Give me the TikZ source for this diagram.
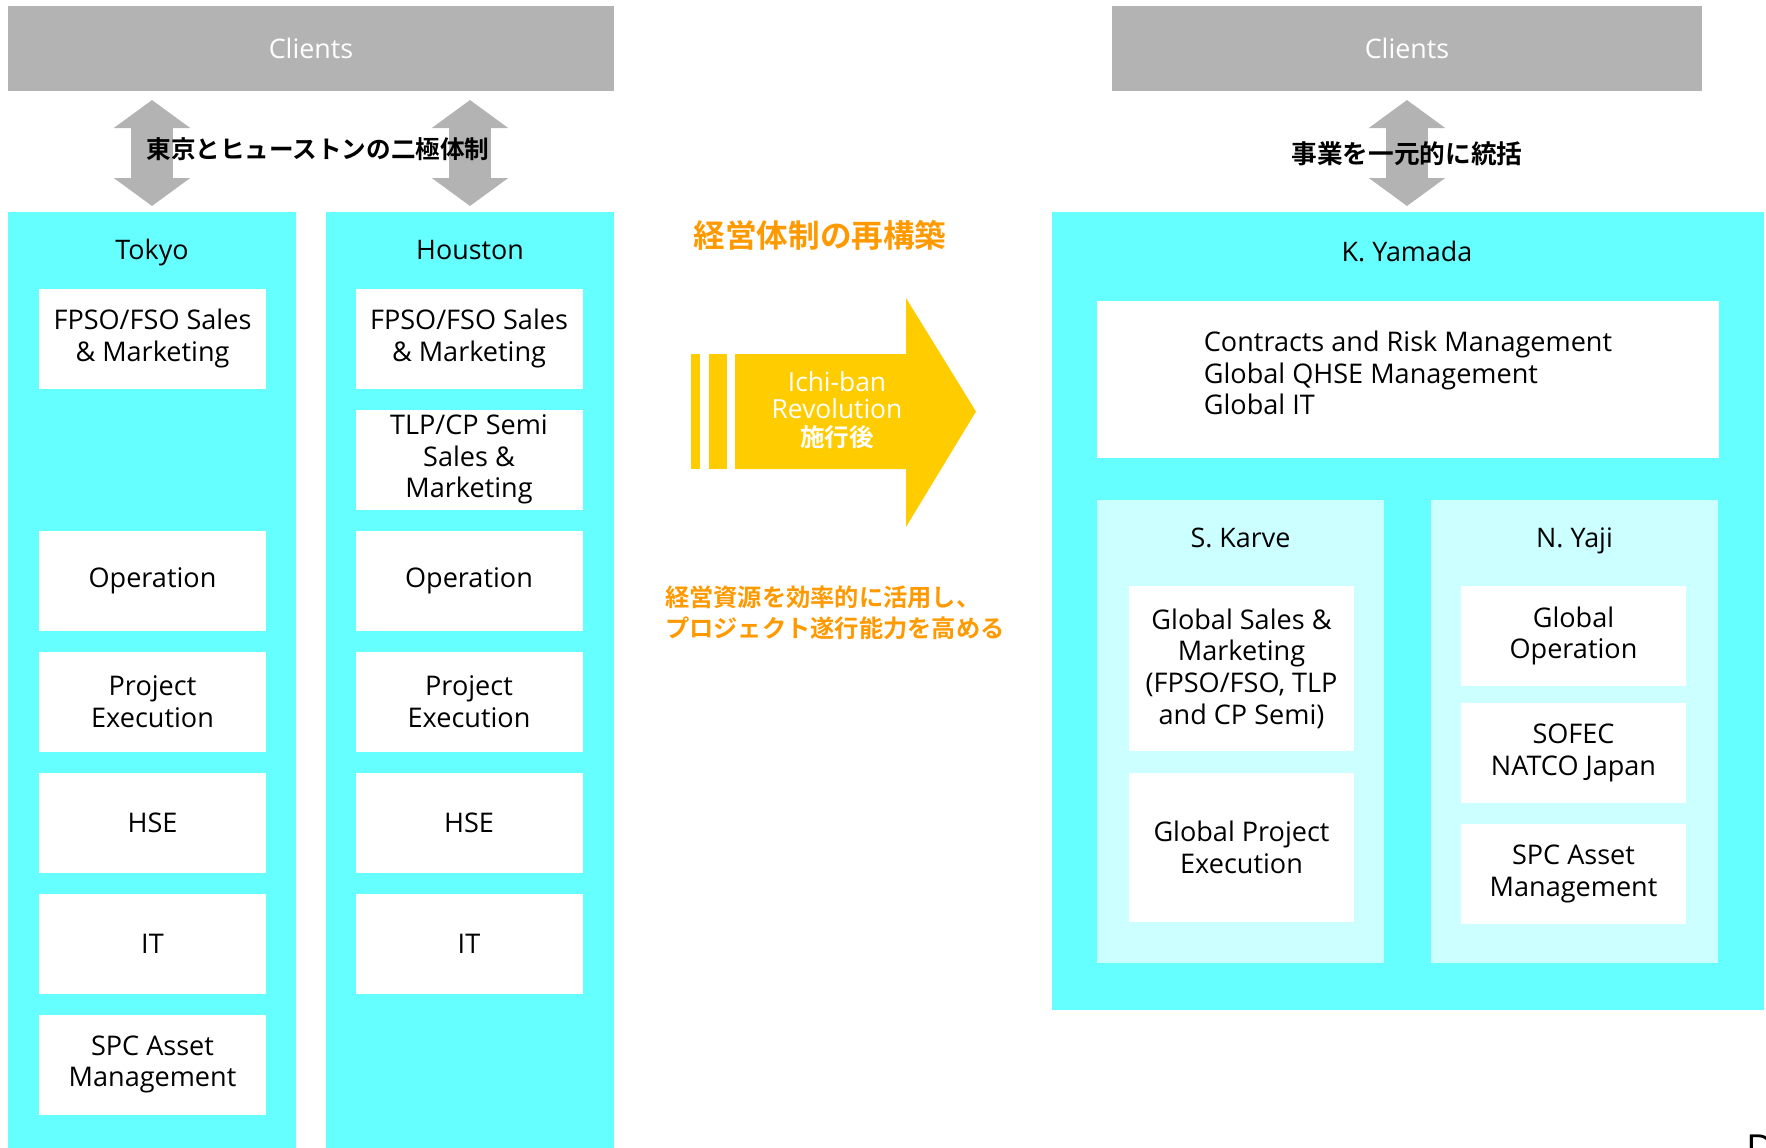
\documentclass[tikz,border=0pt]{standalone}
\usepackage{fontspec}
\setmainfont{Open Sans}
\newfontfamily\jpbold{Noto Sans CJK JP Bold}
\usepackage{xcolor}
\usetikzlibrary{positioning, arrows.meta, calc}

\definecolor{clientgray}{HTML}{B3B3B3}
\definecolor{teamcyan}{HTML}{66FFFF}
\definecolor{panelcyan}{HTML}{CCFFFF}
\definecolor{revyellow}{HTML}{FFCC00}
\definecolor{msgorange}{HTML}{FF9900}

\begin{document}
\begin{tikzpicture}[
    node distance=0.42cm,
    every node/.style={inner sep=0pt, outer sep=0pt},
    clientbox/.style={rectangle, fill=clientgray, text=white, minimum width=12.12cm, minimum height=1.7cm, font=\fontsize{15.3}{18}\selectfont},
    column/.style={rectangle, fill=teamcyan, anchor=north, minimum width=5.76cm, minimum height=18.8cm},
    panel/.style={rectangle, fill=panelcyan, minimum width=5.74cm, minimum height=9.26cm},
    coltitle/.style={font=\fontsize{15.3}{18}\selectfont, text height=0.75em, text depth=0.25em},
    unitbox/.style={rectangle, fill=white, align=center, minimum width=4.54cm, minimum height=2cm, font=\fontsize{15.4}{18}\selectfont},
    dblarrow/.style={draw=clientgray, line width=0.84cm, {Triangle[length=0.56cm, width=1.5cm]}-{Triangle[length=0.56cm, width=1.5cm]}},
    jplabel/.style={font=\jpbold\fontsize{14}{17}\selectfont},
    headline/.style={text=msgorange, font=\jpbold\fontsize{18}{22}\selectfont}
]
\useasboundingbox (0,0) rectangle (35.32,-22.94);

% clients
\node[clientbox] (clientsL) at (6.22,-0.97) {Clients};
\node[clientbox, minimum width=11.8cm] (clientsR) at (28.14,-0.97) {Clients};

% before: Tokyo and Houston
\node[column] (tokyo) at (3.04,-4.24) {};
\node[column] (houston) at (9.40,-4.24) {};
\node[coltitle] (tokyoname) at (3.04,-5.11) {Tokyo};
\node[coltitle] (houstonname) at (9.40,-5.11) {Houston};

\node[unitbox] (tksales) at (3.05,-6.77) {FPSO/FSO Sales\\\& Marketing};
\node[unitbox, below=2.84cm of tksales] (tkops) {Operation};
\node[unitbox, below=of tkops] (tkpe) {Project\\Execution};
\node[unitbox, below=of tkpe] (tkhse) {HSE};
\node[unitbox, below=of tkhse] (tkit) {IT};
\node[unitbox, below=of tkit] (tkspc) {SPC Asset\\Management};

\node[unitbox] (hosales) at (9.38,-6.77) {FPSO/FSO Sales\\\& Marketing};
\node[unitbox, below=of hosales] (hotlp) {TLP/CP Semi\\Sales \&\\Marketing};
\node[unitbox, below=of hotlp] (hoops) {Operation};
\node[unitbox, below=of hoops] (hope) {Project\\Execution};
\node[unitbox, below=of hope] (hohse) {HSE};
\node[unitbox, below=of hohse] (hoit) {IT};

\draw[dblarrow] ($(clientsL.south -| tokyo.north)+(0,-0.18)$) -- ($(tokyo.north)+(0,0.12)$);
\draw[dblarrow] ($(clientsL.south -| houston.north)+(0,-0.18)$) -- ($(houston.north)+(0,0.12)$);
\node[jplabel] (bipolar) at (6.36,-2.98) {東京とヒューストンの二極体制};

% the change
\node[headline] (rebuild) at (16.40,-4.70) {経営体制の再構築};
\fill[revyellow] (13.82,-7.08) rectangle (14.00,-9.38);
\fill[revyellow] (14.18,-7.08) rectangle (14.54,-9.38);
\fill[revyellow] (14.70,-7.08) -- (18.12,-7.08) -- (18.12,-5.96) -- (19.52,-8.23)
    -- (18.12,-10.54) -- (18.12,-9.38) -- (14.70,-9.38) -- cycle;
\node[text=white, align=center, font=\fontsize{15}{15.5}\selectfont] (ichiban) at (16.74,-8.20)
    {Ichi-ban\\Revolution\\{\jpbold\fontsize{14}{15.5}\selectfont 施行後}};
\node[text=msgorange, align=left, anchor=west, font=\jpbold\fontsize{13.8}{17.6}\selectfont] (goal) at (13.30,-12.25)
    {経営資源を効率的に活用し、\\プロジェクト遂行能力を高める};

% after: K. Yamada
\node[column, minimum width=14.24cm, minimum height=15.96cm] (yamada) at (28.16,-4.24) {};
\node[coltitle] (yamadaname) at (28.14,-5.14) {K. Yamada};
\node[unitbox, minimum width=12.44cm, minimum height=3.14cm, align=left, text depth=0.27cm] (corporate) at (28.16,-7.59)
    {Contracts and Risk Management\\Global QHSE Management\\Global IT};
\draw[dblarrow] ($(clientsR.south)+(0,-0.18)$) -- ($(clientsR.south |- yamada.north)+(0,0.12)$);
\node[jplabel, font=\jpbold\fontsize{14.6}{17}\selectfont] (unified) at (28.14,-3.08) {事業を一元的に統括};

\node[panel] (karve) at (24.81,-14.63) {};
\node[panel] (yaji) at (31.49,-14.63) {};
\node[coltitle] (karvename) at (24.81,-10.87) {S. Karve};
\node[coltitle] (yajiname) at (31.49,-10.87) {N. Yaji};

\node[unitbox, minimum width=4.5cm, minimum height=3.3cm] (gsales) at (24.83,-13.37)
    {Global Sales \&\\Marketing\\(FPSO/FSO, TLP\\and CP Semi)};
\node[unitbox, minimum width=4.5cm, minimum height=2.98cm, below=0.44cm of gsales] (gpe) {Global Project\\Execution};

\node[unitbox, minimum width=4.5cm] (gops) at (31.47,-12.72) {Global\\Operation};
\node[unitbox, minimum width=4.5cm, below=0.34cm of gops] (sofec) {SOFEC\\NATCO Japan};
\node[unitbox, minimum width=4.5cm, below=of sofec] (yjspc) {SPC Asset\\Management};

\node[anchor=north west, font=\fontsize{22}{22}\selectfont] (pagemark) at (34.92,-22.70) {D};
\end{tikzpicture}
\end{document}
